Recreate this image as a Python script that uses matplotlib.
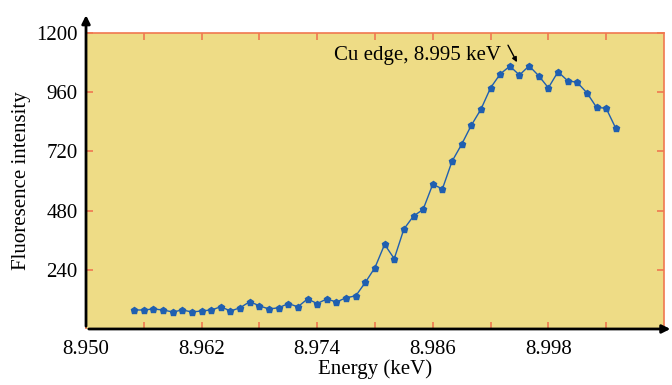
import numpy as np
import matplotlib
matplotlib.use('Agg')
import matplotlib.pyplot as plt
from matplotlib.ticker import FixedLocator

plt.rcParams['font.family'] = 'Liberation Serif'

# energy (keV) and fluorescence counts
energy = [8.955, 8.956, 8.957, 8.958, 8.959, 8.960, 8.961, 8.962, 8.963, 8.964,
          8.965, 8.966, 8.967, 8.968, 8.969, 8.970, 8.971, 8.972, 8.973, 8.974,
          8.975, 8.976, 8.977, 8.978, 8.979, 8.980, 8.981, 8.982, 8.983, 8.984,
          8.985, 8.986, 8.987, 8.988, 8.989, 8.990, 8.991, 8.992, 8.993, 8.994,
          8.995, 8.996, 8.997, 8.998, 8.999, 9.000, 9.001, 9.002, 9.003, 9.004,
          9.005]
intensity = [77, 77, 81, 77, 69, 77, 69, 73, 77, 90,
             73, 86, 111, 94, 81, 86, 103, 90, 122, 103,
             122, 109, 127, 134, 189, 249, 343, 285, 405, 458,
             485, 587, 568, 680, 749, 826, 891, 978, 1034, 1066,
             1030, 1067, 1027, 978, 1043, 1007, 1000, 958, 899, 895,
             814]

xticks = [8.950, 8.956, 8.962, 8.968, 8.974, 8.980, 8.986, 8.992, 8.998, 9.004]
xlabels = ['8.950', '', '8.962', '', '8.974', '', '8.986', '', '8.998', '']
yticks = [240, 480, 720, 960, 1200]

bg = '#eedc86'
orange = '#f07850'
blue = '#1f5fb0'

fig = plt.figure(figsize=(6.72, 3.85), dpi=100)
ax = fig.add_axes([0.128, 0.1455, 0.86, 0.7685])
ax.set_facecolor(bg)

ax.plot(energy, intensity, '-', color=blue, lw=1.0,
        marker='p', ms=5, mfc=blue, mec=blue)

ax.set_xlim(8.950, 9.010)
ax.set_ylim(0, 1200)
ax.xaxis.set_major_locator(FixedLocator(xticks))
ax.set_xticklabels(xlabels)
ax.set_yticks(yticks)
ax.set_yticklabels([str(v) for v in yticks])

ax.tick_params(axis='both', direction='in', colors=orange, length=5, width=1.2,
               labelsize=15, labelcolor='black', top=True, right=True)
ax.tick_params(axis='x', pad=8)
ax.tick_params(axis='y', pad=6)

for s in ['top', 'right']:
    ax.spines[s].set_color(orange)
    ax.spines[s].set_linewidth(1.2)
for s in ['left', 'bottom']:
    ax.spines[s].set_visible(False)

# black axis lines with arrow heads
ax.annotate('', xy=(0, 1.07), xytext=(0, 0), xycoords='axes fraction',
            arrowprops=dict(arrowstyle='-|>', color='black', lw=2, mutation_scale=12),
            annotation_clip=False)
ax.annotate('', xy=(1.016, 0), xytext=(0, 0), xycoords='axes fraction',
            arrowprops=dict(arrowstyle='-|>', color='black', lw=2, mutation_scale=12),
            annotation_clip=False)

ax.text(8.9931, 1111, 'Cu edge, 8.995 keV', fontsize=15, ha='right', va='center')
ax.annotate('', xy=(8.99474, 1082), xytext=(8.99381, 1151),
            arrowprops=dict(arrowstyle='-|>', color='black', lw=1, mutation_scale=7,
                            shrinkA=0, shrinkB=0))

ax.set_xlabel('Energy (keV)', fontsize=15, labelpad=0)
ax.set_ylabel('Fluoresence intensity', fontsize=15, labelpad=4)

fig.savefig('out.png', dpi=100)
